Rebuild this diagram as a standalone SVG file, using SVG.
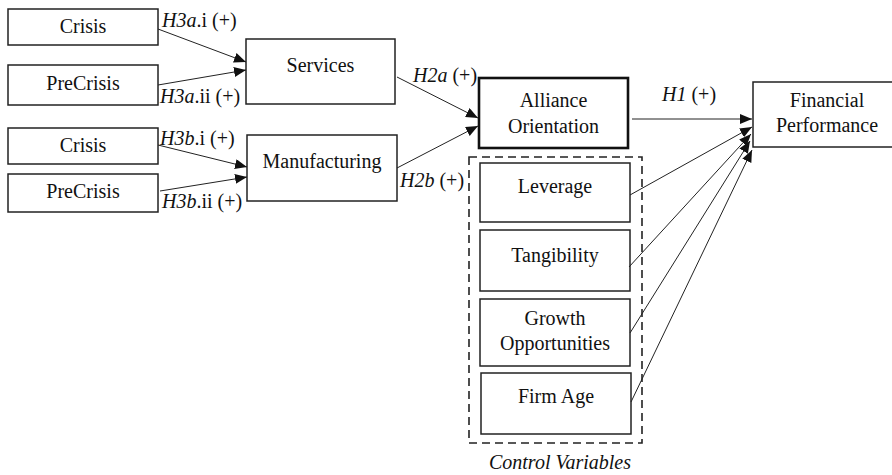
<svg xmlns="http://www.w3.org/2000/svg" width="892" height="475" viewBox="0 0 892 475">
  <style>
    text { font-family: "Liberation Serif", "DejaVu Serif", serif; font-size: 20px; fill: #111; }
    .box { fill: #fff; stroke: #222; stroke-width: 1.5; }
    .main { fill: #fff; stroke: #111; stroke-width: 2.6; }
    .lbl { text-anchor: middle; }
    .it { font-style: italic; }
    .edge { stroke: #222; stroke-width: 1; fill: none; marker-end: url(#ah); }
    .group { fill: none; stroke: #222; stroke-width: 1.6; stroke-dasharray: 8 5; }
  </style>
  <defs>
    <marker id="ah" viewBox="0 0 12 10" refX="12" refY="5" markerWidth="12" markerHeight="10" markerUnits="userSpaceOnUse" orient="auto">
      <path d="M0,0 L12,5 L0,10 z" fill="#111"/>
    </marker>
  </defs>

  <!-- control variable grouping -->
  <rect class="group" x="469" y="157" width="173" height="286"/>
  <text class="it lbl" x="560" y="469">Control Variables</text>

  <g id="crisis-a"><rect class="box" x="8" y="9" width="150" height="36"/><text class="lbl" x="83" y="33">Crisis</text></g>
  <g id="precrisis-a"><rect class="box" x="8" y="65" width="150" height="40"/><text class="lbl" x="83" y="90">PreCrisis</text></g>
  <g id="crisis-b"><rect class="box" x="8" y="128" width="150" height="36"/><text class="lbl" x="83" y="152">Crisis</text></g>
  <g id="precrisis-b"><rect class="box" x="8" y="174" width="150" height="38"/><text class="lbl" x="83" y="198">PreCrisis</text></g>

  <g id="services"><rect class="box" x="246" y="39" width="149" height="65"/><text class="lbl" x="320.5" y="72">Services</text></g>
  <g id="manufacturing"><rect class="box" x="247" y="135" width="150" height="66"/><text class="lbl" x="322" y="168">Manufacturing</text></g>

  <g id="alliance"><rect class="main" x="479" y="78" width="149" height="70"/><text class="lbl" x="553.5" y="107">Alliance</text><text class="lbl" x="553.5" y="133">Orientation</text></g>
  <g id="financial"><rect class="box" x="753" y="82" width="150" height="65"/><text class="lbl" x="827" y="107">Financial</text><text class="lbl" x="827" y="132">Performance</text></g>

  <g id="leverage"><rect class="box" x="480" y="163" width="150" height="59"/><text class="lbl" x="555" y="193">Leverage</text></g>
  <g id="tangibility"><rect class="box" x="480" y="230" width="150" height="61"/><text class="lbl" x="555" y="262">Tangibility</text></g>
  <g id="growth"><rect class="box" x="480" y="299" width="150" height="67"/><text class="lbl" x="555" y="325">Growth</text><text class="lbl" x="555" y="350">Opportunities</text></g>
  <g id="firm-age"><rect class="box" x="481" y="373" width="150" height="61"/><text class="lbl" x="556" y="403">Firm Age</text></g>

  <g id="connectors">
    <line class="edge" x1="158" y1="29" x2="246" y2="62"/>
    <line class="edge" x1="158" y1="85" x2="246" y2="70"/>
    <line class="edge" x1="158" y1="145" x2="247" y2="167"/>
    <line class="edge" x1="160" y1="191" x2="247" y2="177"/>
    <line class="edge" x1="397" y1="77" x2="478" y2="118"/>
    <line class="edge" x1="397" y1="168" x2="478" y2="126"/>
    <line class="edge" x1="632" y1="119" x2="752" y2="119"/>
    <line class="edge" x1="630" y1="195" x2="752" y2="127"/>
    <line class="edge" x1="629" y1="267" x2="751" y2="134"/>
    <line class="edge" x1="630" y1="333" x2="750" y2="141"/>
    <line class="edge" x1="631" y1="402" x2="752" y2="150"/>
  </g>

  <g id="labels">
    <text x="162" y="27"><tspan class="it">H3a</tspan>.i (+)</text>
    <text x="160" y="103"><tspan class="it">H3a</tspan>.ii (+)</text>
    <text x="160" y="145"><tspan class="it">H3b</tspan>.i (+)</text>
    <text x="162" y="208"><tspan class="it">H3b</tspan>.ii (+)</text>
    <text x="413" y="82"><tspan class="it">H2a</tspan> (+)</text>
    <text x="400" y="187"><tspan class="it">H2b</tspan> (+)</text>
    <text x="662" y="101"><tspan class="it">H1</tspan> (+)</text>
  </g>
</svg>
